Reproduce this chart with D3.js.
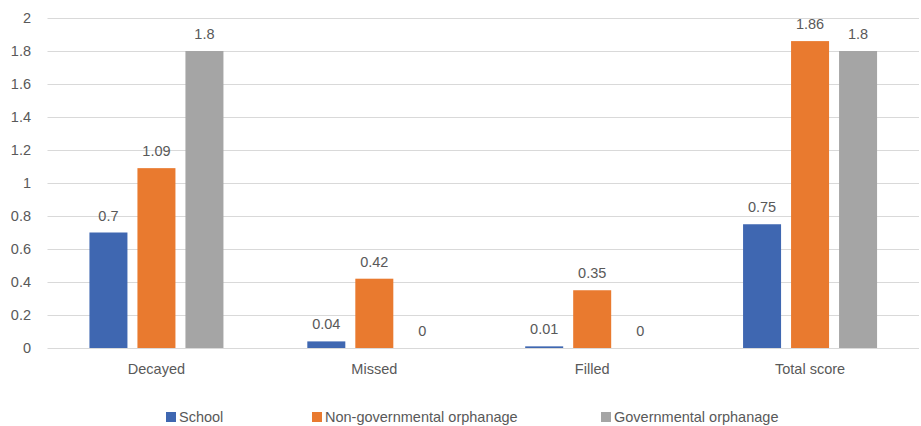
<!DOCTYPE html>
<html>
<head>
<meta charset="utf-8">
<script src="https://cdn.jsdelivr.net/npm/d3@7"></script>
<style>
  html, body { margin: 0; padding: 0; background: #fff; }
  svg text { font-family: "Liberation Sans", Arial, sans-serif; fill: #595959; }
</style>
</head>
<body>
<svg id="chart" width="921" height="426"></svg>
<script>
// Dental index scores by group
const categories = ["Decayed", "Missed", "Filled", "Total score"];
const seriesNames = ["School", "Non-governmental orphanage", "Governmental orphanage"];
const schoolValues = [0.7, 0.04, 0.01, 0.75];
const nonGovValues = [1.09, 0.42, 0.35, 1.86];
const govValues = [1.8, 0, 0, 1.8];
const yTicks = [0, 0.2, 0.4, 0.6, 0.8, 1, 1.2, 1.4, 1.6, 1.8, 2];
const colors = ["#3F67B1", "#E97A2F", "#A5A5A5"];

const seriesValues = [schoolValues, nonGovValues, govValues];

const svg = d3.select("#chart");
const plotLeft = 47.5, plotRight = 919, plotTop = 18, plotBottom = 348;

const x = d3.scaleBand().domain(categories).range([plotLeft, plotRight]);
const y = d3.scaleLinear().domain([0, 2]).range([plotBottom, plotTop]);

const barW = 38, gap = 10;
const groupW = 3 * barW + 2 * gap;
const offset = d3.scaleBand().domain(seriesNames.map((d, i) => i))
  .range([0, groupW]).paddingInner(gap / (barW + gap));

// Gridlines
svg.append("g").selectAll("line").data(yTicks).join("line")
  .attr("x1", plotLeft).attr("x2", plotRight)
  .attr("y1", d => Math.round(y(d)) + 0.5).attr("y2", d => Math.round(y(d)) + 0.5)
  .attr("stroke", "#D9D9D9").attr("stroke-width", 1);

// Y axis labels
const yAxis = d3.axisLeft(y).tickValues(yTicks).tickFormat(d3.format("~g")).tickSize(0).tickPadding(0);
const ya = svg.append("g").attr("transform", "translate(31,0)").call(yAxis);
ya.select(".domain").remove();
ya.selectAll("text").attr("font-size", 14.5).style("fill", "#595959")
  .style("font-family", "Liberation Sans, Arial, sans-serif");

// Bars with value labels
categories.forEach((cat, ci) => {
  const gx = x(cat) + (x.bandwidth() - groupW) / 2;
  seriesValues.forEach((vals, si) => {
    const v = vals[ci];
    const bx = gx + offset(si);
    svg.append("rect")
      .attr("x", bx).attr("width", offset.bandwidth())
      .attr("y", y(v)).attr("height", plotBottom - y(v))
      .attr("fill", colors[si]);
    svg.append("text")
      .attr("x", bx + offset.bandwidth() / 2).attr("y", y(v) - 12)
      .attr("text-anchor", "middle").attr("font-size", 14.5)
      .text(d3.format("~g")(v));
  });
});

// Category labels
const xAxis = d3.axisBottom(x).tickSize(0).tickPadding(0);
const xa = svg.append("g").attr("transform", `translate(0,${plotBottom + 16})`).call(xAxis);
xa.select(".domain").remove();
xa.selectAll("text").attr("font-size", 14.5).style("fill", "#595959")
  .style("font-family", "Liberation Sans, Arial, sans-serif");

// Legend
const legendX = [166, 312, 601];
const legend = svg.append("g").selectAll("g").data(seriesNames).join("g")
  .attr("transform", (d, i) => `translate(${legendX[i]},412)`);
legend.append("rect").attr("width", 10).attr("height", 10).attr("fill", (d, i) => colors[i]);
legend.append("text").attr("x", 13).attr("y", 10).attr("font-size", 14.5).text(d => d);
</script>
</body>
</html>
